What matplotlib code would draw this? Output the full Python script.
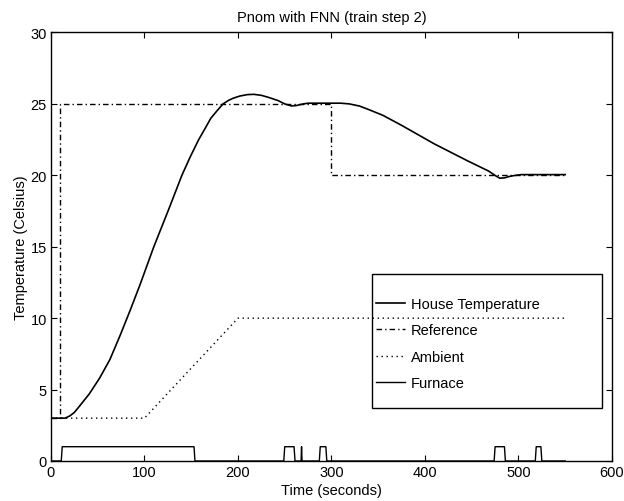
import matplotlib
matplotlib.use("Agg")
import matplotlib.pyplot as plt
from matplotlib.patches import Rectangle


# -----------------------------
# Data
# -----------------------------
house_time = [0, 15, 20, 25, 30, 41, 52, 63, 74, 85, 95, 110, 127, 140, 149,
              158, 165, 171, 178, 184, 190, 195, 202, 210, 217, 225, 233, 243,
              250, 257, 262, 270, 275, 290, 301, 310, 319, 330, 340, 355, 375,
              410, 446, 468, 476, 480, 485, 489, 495, 503, 550]
house_temp = [3.0, 3.0, 3.15, 3.4, 3.8, 4.7, 5.8, 7.1, 8.8, 10.6, 12.3, 15.0,
              17.8, 20.0, 21.3, 22.5, 23.3, 24.0, 24.55, 25.0, 25.25, 25.4,
              25.55, 25.65, 25.67, 25.6, 25.45, 25.23, 25.0, 24.86, 24.88,
              25.0, 25.05, 25.05, 25.05, 25.05, 25.0, 24.85, 24.6, 24.2, 23.5,
              22.2, 21.0, 20.3, 19.95, 19.8, 19.82, 19.9, 19.98, 20.05, 20.05]

ref_time = [0, 10, 10, 300, 300, 550]
ref_temp = [3, 3, 25, 25, 20, 20]

ambient_time = [0, 100, 200, 550]
ambient_temp = [3, 3, 10, 10]

furnace_time = [0, 11, 12, 153, 154, 249, 250, 260, 261, 267.5, 268, 268.5,
                287, 288, 294, 295, 474, 475, 485, 486, 518, 519, 524, 525, 550]
furnace_state = [0, 0, 1, 1, 0, 0, 1, 1, 0, 0, 1, 0,
                 0, 1, 1, 0, 0, 1, 1, 0, 0, 1, 1, 0, 0]

x_ticks = [0, 100, 200, 300, 400, 500, 600]
y_ticks = [0, 5, 10, 15, 20, 25, 30]


# -----------------------------
# Plot
# -----------------------------
plt.rcParams["font.family"] = ["Liberation Sans", "DejaVu Sans"]
plt.rcParams["font.size"] = 10.5

fig = plt.figure(figsize=(6.24, 5.02), dpi=100)
ax = fig.add_axes([0.0817, 0.0797, 0.899, 0.8536])

ax.plot(house_time, house_temp, color="black", lw=1.2,
        label="House Temperature")
ax.plot(ref_time, ref_temp, color="black", lw=1.0,
        dashes=(4, 2.2, 1, 2.2), label="Reference")
ax.plot(ambient_time, ambient_temp, color="black", lw=1.0,
        dashes=(1, 2.6), label="Ambient")
ax.plot(furnace_time, furnace_state, color="black", lw=1.0,
        label="Furnace")

ax.set_xlim(0, 600)
ax.set_ylim(0, 30)
ax.set_xticks(x_ticks)
ax.set_yticks(y_ticks)
ax.tick_params(direction="in", length=4, top=True, right=True,
               labelsize=10.5, pad=3)
for spine in ax.spines.values():
    spine.set_linewidth(1.0)

ax.set_title("Pnom with FNN (train step 2)", fontsize=10.5, pad=8)
ax.set_xlabel("Time (seconds)", fontsize=10.5, labelpad=3)
ax.set_ylabel("Temperature (Celsius)", fontsize=10.5, labelpad=2)

# legend box drawn as a plain frame, entries placed inside it
ax.add_patch(Rectangle((0.572, 0.124), 0.41, 0.312, transform=ax.transAxes,
                       fill=False, lw=1.0, color="black", zorder=1))
ax.legend(loc="upper left", bbox_to_anchor=(0.579, 0.383), frameon=False,
          borderpad=0, borderaxespad=0, handlelength=2.0, handletextpad=0.4,
          labelspacing=0.85, fontsize=10.5)

fig.savefig("out.png", dpi=100)
plt.close(fig)
